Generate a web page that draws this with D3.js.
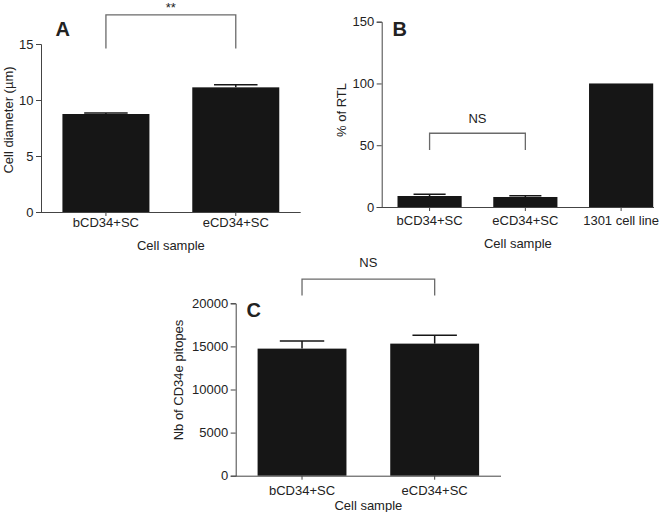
<!DOCTYPE html>
<html><head><meta charset="utf-8">
<script src="https://cdn.jsdelivr.net/npm/d3@7"></script>
<style>body{margin:0;background:#fff}svg{display:block}text{font-family:"Liberation Sans",Arial,Helvetica,sans-serif;fill:#222}</style>
</head><body>
<svg id="c" width="669" height="512"></svg>
<script>
// Panel A
const catsA = ["bCD34+SC", "eCD34+SC"];
const valsA = [8.75, 11.13];
const errA = [0.1, 0.24];
const ticksA = [0, 5, 10, 15];
const sigA = {label: "**", from: 0, to: 1, top: 17.6, leg: 14.6};
// Panel B
const catsB = ["bCD34+SC", "eCD34+SC", "1301 cell line"];
const valsB = [8.9, 8.1, 100];
const errB = [1.4, 1.0, 0];
const ticksB = [0, 50, 100, 150];
const sigB = {label: "NS", from: 0, to: 1, top: 59.7, leg: 46.1};
// Panel C
const catsC = ["bCD34+SC", "eCD34+SC"];
const valsC = [14742, 15322];
const errC = [890, 975];
const ticksC = [0, 5000, 10000, 15000, 20000];
const sigC = {label: "NS", from: 0, to: 1, top: 22800, leg: 20900};

const svg = d3.select("#c");

function panel(o) {
  const g = svg.append("g");
  const x = d3.scaleBand().domain(o.cats).range([o.x0, o.x1]).paddingInner(o.pi).paddingOuter(o.po);
  const y = d3.scaleLinear().domain([0, o.ymax]).range([o.y0, o.y1]);
  // bars
  g.selectAll("rect.bar").data(o.vals).join("rect")
    .attr("x", (d, i) => x(o.cats[i])).attr("width", x.bandwidth())
    .attr("y", d => y(d)).attr("height", d => y(0) - y(d))
    .attr("fill", "#161616");
  // error bars
  o.vals.forEach((v, i) => {
    if (!o.err[i]) return;
    const cx = x(o.cats[i]) + x.bandwidth() / 2, hw = x.bandwidth() / 4;
    g.append("line").attr("x1", cx).attr("x2", cx).attr("y1", y(v)).attr("y2", y(v + o.err[i]))
      .attr("stroke", "#161616").attr("stroke-width", 1.5);
    g.append("line").attr("x1", cx - hw).attr("x2", cx + hw).attr("y1", y(v + o.err[i])).attr("y2", y(v + o.err[i]))
      .attr("stroke", "#161616").attr("stroke-width", 1.5);
  });
  // y axis
  const ya = g.append("g").attr("transform", `translate(${o.x0},0)`)
    .call(d3.axisLeft(y).tickValues(o.ticks).tickSize(5).tickPadding(2.5).tickFormat(d3.format("d")));
  ya.selectAll("path,line").attr("stroke", "#444");
  ya.selectAll("text").style("font-size", "13px").attr("fill", "#222");
  // x axis
  const xa = g.append("g").attr("transform", `translate(0,${o.y0})`)
    .call(d3.axisBottom(x).tickSize(4).tickPadding(o.tp).tickSizeOuter(0));
  xa.select("path.domain").attr("d", `M${o.x0},0.5H${o.xend}`);
  xa.selectAll("path,line").attr("stroke", "#444");
  xa.selectAll("text").style("font-size", "13px").attr("fill", "#222");
  // axis titles
  g.append("text").attr("x", (o.x0 + o.xend) / 2).attr("y", o.xtY).attr("text-anchor", "middle")
    .style("font-size", "13px").text("Cell sample");
  g.append("text").attr("transform", `translate(${o.ytX},${o.ytY}) rotate(-90)`)
    .attr("text-anchor", "middle").attr("dominant-baseline", "central")
    .style("font-size", "13px").text(o.ytitle);
  // panel letter
  g.append("text").attr("x", o.lx).attr("y", o.ly).style("font-size", "20px").style("font-weight", "bold")
    .attr("fill", "#111").text(o.letter);
  // significance bracket
  const s = o.sig;
  const xa1 = x(o.cats[s.from]) + x.bandwidth() / 2, xb1 = x(o.cats[s.to]) + x.bandwidth() / 2;
  g.append("path").attr("d", `M${xa1},${y(s.leg)}V${y(s.top)}H${xb1}V${y(s.leg)}`)
    .attr("fill", "none").attr("stroke", "#6a6a6a").attr("stroke-width", 1.3);
  g.append("text").attr("x", (xa1 + xb1) / 2).attr("y", y(s.top) - o.sigDy).attr("text-anchor", "middle")
    .style("font-size", "13px").text(s.label);
}

panel({cats: catsA, vals: valsA, err: errA, ticks: ticksA, ymax: 15, sig: sigA,
  x0: 41, x1: 300.7, xend: 300.7, pi: 0.33, po: 0.165, y0: 212, y1: 44, tp: 1.5,
  xtY: 249.5, ytX: 8, ytY: 120, ytitle: "Cell diameter (µm)", letter: "A", lx: 55.5, ly: 36.3, sigDy: 3});
panel({cats: catsB, vals: valsB, err: errB, ticks: ticksB, ymax: 150, sig: sigB,
  x0: 381.7, x1: 669, xend: 654, pi: 0.33, po: 0.165, y0: 207, y1: 21.7, tp: 4.4,
  xtY: 247.5, ytX: 341, ytY: 110, ytitle: "% of RTL", letter: "B", lx: 392.5, ly: 36, sigDy: 10.6});
panel({cats: catsC, vals: valsC, err: errC, ticks: ticksC, ymax: 20000, sig: sigC,
  x0: 235.7, x1: 501, xend: 501, pi: 0.33, po: 0.165, y0: 475.7, y1: 303.3, tp: 6.4,
  xtY: 509.5, ytX: 178, ytY: 380, ytitle: "Nb of CD34e pitopes", letter: "C", lx: 246.5, ly: 316.5, sigDy: 12.6});
</script>
</body></html>
